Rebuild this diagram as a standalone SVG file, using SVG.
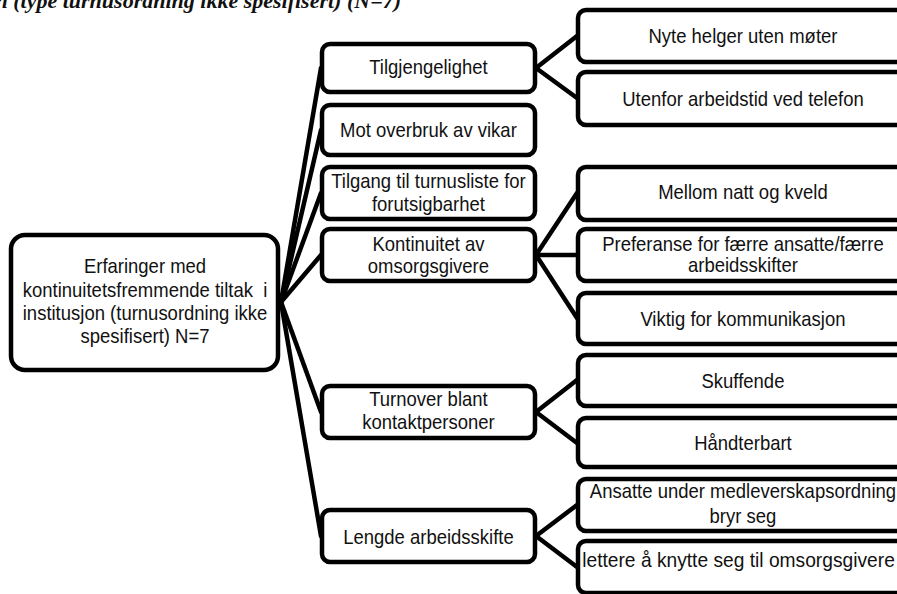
<svg xmlns="http://www.w3.org/2000/svg" width="897" height="594" viewBox="0 0 897 594">
  <style>
    .box { fill: #fff; stroke: #000; stroke-width: 4.5; }
    /* labels are set slightly condensed: 20px glyphs squeezed to 92.5% width */
    .lbl { font-family: "Liberation Sans", Arial, sans-serif; font-size: 20px; fill: #111; text-anchor: middle; }
    .title { font-family: "Liberation Serif", "Times New Roman", serif; font-size: 22px; font-style: italic; font-weight: bold; fill: #111; }
    .edge { stroke: #000; stroke-width: 4.5; fill: none; stroke-linecap: round; }
  </style>
  <rect width="897" height="594" fill="#fff"/>

  <!-- caption, cut by the top edge -->
  <text class="title" x="-4.5" y="8">n (type turnusordning ikke spesifisert) (N=7)</text>

  <!-- connectors -->
  <g id="connectors" class="edge">
    <line x1="281" y1="302" x2="321" y2="68"/>
    <line x1="281" y1="302" x2="321" y2="130"/>
    <line x1="281" y1="302" x2="321" y2="193"/>
    <line x1="281" y1="302" x2="321" y2="255"/>
    <line x1="281" y1="302" x2="321" y2="412"/>
    <line x1="281" y1="302" x2="321" y2="536"/>

    <line x1="536" y1="68" x2="577" y2="36"/>
    <line x1="536" y1="68" x2="577" y2="98"/>

    <line x1="536" y1="255" x2="577" y2="193"/>
    <line x1="536" y1="255" x2="577" y2="255"/>
    <line x1="536" y1="255" x2="577" y2="318"/>

    <line x1="536" y1="412" x2="577" y2="380"/>
    <line x1="536" y1="412" x2="577" y2="443"/>

    <line x1="536" y1="536" x2="577" y2="505"/>
    <line x1="536" y1="536" x2="577" y2="567"/>
  </g>

  <!-- root (text x values are divided by the 0.925 squeeze) -->
  <g id="root">
    <rect class="box" x="11" y="235" width="267" height="135" rx="14"/>
    <text class="lbl" transform="scale(0.925 1)" x="156.8" y="273">Erfaringer med</text>
    <text class="lbl" transform="scale(0.925 1)" x="156.8" y="297">kontinuitetsfremmende tiltak&#160; i</text>
    <text class="lbl" transform="scale(0.925 1)" x="156.8" y="320">institusjon (turnusordning ikke</text>
    <text class="lbl" transform="scale(0.925 1)" x="156.8" y="343">spesifisert) N=7</text>
  </g>

  <!-- second level -->
  <g id="tilgjengelighet">
    <rect class="box" x="322" y="44" width="213" height="48" rx="8"/>
    <text class="lbl" transform="scale(0.925 1)" x="463.2" y="74">Tilgjengelighet</text>
  </g>
  <g id="mot-overbruk">
    <rect class="box" x="322" y="105" width="213" height="50" rx="8"/>
    <text class="lbl" transform="scale(0.925 1)" x="463.2" y="137">Mot overbruk av vikar</text>
  </g>
  <g id="tilgang-turnusliste">
    <rect class="box" x="322" y="167" width="213" height="52" rx="8"/>
    <text class="lbl" transform="scale(0.925 1)" x="463.2" y="188">Tilgang til turnusliste for</text>
    <text class="lbl" transform="scale(0.925 1)" x="463.2" y="211">forutsigbarhet</text>
  </g>
  <g id="kontinuitet">
    <rect class="box" x="322" y="229" width="213" height="52" rx="8"/>
    <text class="lbl" transform="scale(0.925 1)" x="463.2" y="251">Kontinuitet av</text>
    <text class="lbl" transform="scale(0.925 1)" x="463.2" y="273">omsorgsgivere</text>
  </g>
  <g id="turnover">
    <rect class="box" x="322" y="386" width="213" height="52" rx="8"/>
    <text class="lbl" transform="scale(0.925 1)" x="463.2" y="406">Turnover blant</text>
    <text class="lbl" transform="scale(0.925 1)" x="463.2" y="429">kontaktpersoner</text>
  </g>
  <g id="lengde">
    <rect class="box" x="322" y="510" width="213" height="52" rx="8"/>
    <text class="lbl" transform="scale(0.925 1)" x="463.2" y="544">Lengde arbeidsskifte</text>
  </g>

  <!-- third level (boxes run past the right edge) -->
  <g id="nyte-helger">
    <rect class="box" x="578" y="10" width="332" height="52" rx="8"/>
    <text class="lbl" transform="scale(0.925 1)" x="803.2" y="43">Nyte helger uten møter</text>
  </g>
  <g id="utenfor-arbeidstid">
    <rect class="box" x="578" y="72" width="332" height="53" rx="8"/>
    <text class="lbl" transform="scale(0.925 1)" x="803.2" y="106">Utenfor arbeidstid ved telefon</text>
  </g>
  <g id="mellom-natt">
    <rect class="box" x="578" y="167" width="332" height="53" rx="8"/>
    <text class="lbl" transform="scale(0.925 1)" x="803.2" y="199">Mellom natt og kveld</text>
  </g>
  <g id="preferanse">
    <rect class="box" x="578" y="229" width="332" height="52" rx="8"/>
    <text class="lbl" transform="scale(0.925 1)" x="803.2" y="251">Preferanse for færre ansatte/færre</text>
    <text class="lbl" transform="scale(0.925 1)" x="803.2" y="272">arbeidsskifter</text>
  </g>
  <g id="viktig">
    <rect class="box" x="578" y="293" width="332" height="51" rx="8"/>
    <text class="lbl" transform="scale(0.925 1)" x="803.2" y="326">Viktig for kommunikasjon</text>
  </g>
  <g id="skuffende">
    <rect class="box" x="578" y="355" width="332" height="51" rx="8"/>
    <text class="lbl" transform="scale(0.925 1)" x="803.2" y="388">Skuffende</text>
  </g>
  <g id="handterbart">
    <rect class="box" x="578" y="418" width="332" height="49" rx="8"/>
    <text class="lbl" transform="scale(0.925 1)" x="803.2" y="450">Håndterbart</text>
  </g>
  <g id="ansatte">
    <rect class="box" x="578" y="479" width="332" height="52" rx="8"/>
    <text class="lbl" transform="scale(0.925 1)" x="803.2" y="498">Ansatte under medleverskapsordning</text>
    <text class="lbl" transform="scale(0.925 1)" x="803.2" y="523">bryr seg</text>
  </g>
  <g id="lettere">
    <rect class="box" x="578" y="541" width="332" height="52" rx="8"/>
    <text class="lbl" transform="scale(0.925 1)" x="798.4" y="567" textLength="338" lengthAdjust="spacingAndGlyphs">lettere å knytte seg til omsorgsgivere</text>
  </g>
</svg>
